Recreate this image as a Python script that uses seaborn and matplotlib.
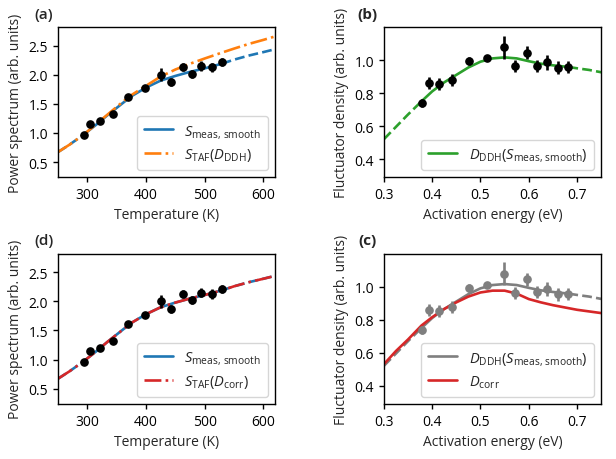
import numpy as np
import pandas as pd
import matplotlib
matplotlib.use('Agg')
import matplotlib.pyplot as plt
import seaborn as sns

# Measured points: temperature (K), power spectrum, error
temp_meas = [295, 304.5, 322.5, 343, 370, 399, 425, 443, 463, 479, 494, 512.5, 529]
S_meas = [0.96, 1.15, 1.20, 1.32, 1.615, 1.77, 2.00, 1.87, 2.13, 2.02, 2.15, 2.13, 2.22]
S_err = [0.035, 0.035, 0.035, 0.04, 0.03, 0.03, 0.115, 0.07, 0.07, 0.07, 0.08, 0.08, 0.07]

# Fluctuator density points: activation energy (eV), density, error
E_meas = [0.378, 0.393, 0.415, 0.442, 0.476, 0.514, 0.548, 0.571, 0.597, 0.617, 0.637, 0.660, 0.682]
D_meas = [0.74, 0.86, 0.854, 0.878, 0.994, 1.01, 1.078, 0.962, 1.044, 0.966, 0.986, 0.954, 0.958]
D_err = [0.024, 0.036, 0.036, 0.036, 0.024, 0.01, 0.07, 0.036, 0.04, 0.036, 0.044, 0.04, 0.036]

# Smoothed / model curves on temperature grid
temp_curve = [250, 270, 295, 315, 335, 355, 375, 400, 425, 450, 475, 500, 529, 550, 575, 600, 620]
S_smooth = [0.67, 0.80, 0.98, 1.14, 1.31, 1.47, 1.63, 1.78, 1.90, 1.98, 2.05, 2.11, 2.19, 2.26, 2.33, 2.39, 2.44]
S_taf_ddh = [0.67, 0.80, 0.98, 1.15, 1.32, 1.49, 1.65, 1.81, 1.97, 2.09, 2.19, 2.28, 2.38, 2.45, 2.53, 2.60, 2.66]
S_taf_corr = [0.67, 0.80, 0.98, 1.14, 1.31, 1.47, 1.63, 1.78, 1.90, 1.98, 2.05, 2.11, 2.19, 2.26, 2.33, 2.39, 2.44]

# Density curves on energy grid
E_curve = [0.30, 0.325, 0.35, 0.378, 0.40, 0.425, 0.45, 0.475, 0.50, 0.525, 0.55, 0.575,
           0.60, 0.625, 0.65, 0.682, 0.70, 0.725, 0.75]
D_ddh = [0.52, 0.595, 0.67, 0.75, 0.81, 0.865, 0.91, 0.955, 0.99, 1.01, 1.016, 1.01,
         0.993, 0.978, 0.968, 0.958, 0.95, 0.94, 0.926]
D_corr = [0.53, 0.61, 0.68, 0.765, 0.815, 0.865, 0.905, 0.94, 0.965, 0.976, 0.976, 0.958,
          0.925, 0.905, 0.888, 0.870, 0.86, 0.85, 0.84]

sns.set_theme(style='ticks')
plt.rcParams['font.family'] = ['Open Sans', 'DejaVu Sans']
plt.rcParams['mathtext.fontset'] = 'custom'
plt.rcParams['mathtext.rm'] = 'Open Sans'
plt.rcParams['mathtext.it'] = 'Open Sans:italic'
plt.rcParams['font.size'] = 10
plt.rcParams['axes.labelsize'] = 10
plt.rcParams['xtick.labelsize'] = 10
plt.rcParams['ytick.labelsize'] = 10
plt.rcParams['legend.fontsize'] = 10.5
plt.rcParams['axes.edgecolor'] = 'black'
plt.rcParams['axes.linewidth'] = 1.0
plt.rcParams['xtick.color'] = 'black'
plt.rcParams['ytick.color'] = 'black'

LW = 1.9


def split_curve(ax, x, y, lo, hi, color, label):
    # solid inside the measured range, dashed outside
    df = pd.DataFrame({'x': x, 'y': y})
    left = df[df['x'] <= lo]
    mid = df[(df['x'] >= lo) & (df['x'] <= hi)]
    right = df[df['x'] >= hi]
    sns.lineplot(data=left, x='x', y='y', ax=ax, color=color, linestyle='--', lw=LW, sort=False)
    sns.lineplot(data=right, x='x', y='y', ax=ax, color=color, linestyle='--', lw=LW, sort=False)
    sns.lineplot(data=mid, x='x', y='y', ax=ax, color=color, linestyle='-', lw=LW, sort=False, label=label)


def points(ax, x, y, err, color):
    ax.errorbar(x, y, yerr=err, fmt='o', color=color, ms=5.2, elinewidth=1.9, capsize=0, zorder=5)


fig, axes = plt.subplots(2, 2, figsize=(6.16, 4.6), dpi=100)
plt.subplots_adjust(left=0.094, right=0.976, top=0.939, bottom=0.12, wspace=0.5, hspace=0.51)
ax_a, ax_b = axes[0]
ax_d, ax_c = axes[1]

lbl_smooth = r'$S_{\mathrm{meas,\,smooth}}$'

# (a)
split_curve(ax_a, temp_curve, S_smooth, temp_meas[0], temp_meas[-1], '#1f77b4', lbl_smooth)
sns.lineplot(x=temp_curve, y=S_taf_ddh, ax=ax_a, color='#ff7f0e', linestyle='-.', lw=LW,
             label=r'$S_{\mathrm{TAF}}(D_{\mathrm{DDH}})$')
points(ax_a, temp_meas, S_meas, S_err, 'black')

# (d)
split_curve(ax_d, temp_curve, S_smooth, temp_meas[0], temp_meas[-1], '#1f77b4', lbl_smooth)
sns.lineplot(x=temp_curve, y=S_taf_corr, ax=ax_d, color='#d62728', linestyle='-.', lw=LW,
             label=r'$S_{\mathrm{TAF}}(D_{\mathrm{corr}})$')
points(ax_d, temp_meas, S_meas, S_err, 'black')

for ax in (ax_a, ax_d):
    ax.set_xlim(250, 620)
    ax.set_ylim(0.24, 2.82)
    ax.set_xticks([300, 400, 500, 600])
    ax.set_yticks([0.5, 1.0, 1.5, 2.0, 2.5])
    ax.set_xlabel('Temperature (K)')
    ax.set_ylabel('Power spectrum (arb. units)')
    ax.legend(loc='lower right', handlelength=2.0, borderpad=0.45, labelspacing=0.45)

# (b)
split_curve(ax_b, E_curve, D_ddh, E_meas[0], E_meas[-1], '#2ca02c',
            r'$D_{\mathrm{DDH}}(S_{\mathrm{meas,\,smooth}})$')
points(ax_b, E_meas, D_meas, D_err, 'black')

# (c)
split_curve(ax_c, E_curve, D_ddh, E_meas[0], E_meas[-1], '#7f7f7f',
            r'$D_{\mathrm{DDH}}(S_{\mathrm{meas,\,smooth}})$')
sns.lineplot(x=E_curve, y=D_corr, ax=ax_c, color='#d62728', lw=LW, label=r'$D_{\mathrm{corr}}$')
points(ax_c, E_meas, D_meas, D_err, '#7f7f7f')

for ax in (ax_b, ax_c):
    ax.set_xlim(0.3, 0.75)
    ax.set_ylim(0.29, 1.2)
    ax.set_xticks([0.3, 0.4, 0.5, 0.6, 0.7])
    ax.set_yticks([0.4, 0.6, 0.8, 1.0])
    ax.set_xlabel('Activation energy (eV)')
    ax.set_ylabel('Fluctuator density (arb. units)')
    ax.legend(loc='lower right', handlelength=2.0, borderpad=0.45, labelspacing=0.45)

for ax in axes.flat:
    for s in ax.spines.values():
        s.set_visible(True)
    ax.tick_params(direction='out', length=3.5, width=1)

ax_a.text(-0.065, 1.09, '(a)', transform=ax_a.transAxes, ha='center', va='center', fontsize=11, fontweight='semibold')
ax_d.text(-0.065, 1.09, '(d)', transform=ax_d.transAxes, ha='center', va='center', fontsize=11, fontweight='semibold')
ax_b.text(-0.075, 1.09, '(b)', transform=ax_b.transAxes, ha='center', va='center', fontsize=11, fontweight='bold')
ax_c.text(-0.075, 1.09, '(c)', transform=ax_c.transAxes, ha='center', va='center', fontsize=11, fontweight='bold')

plt.savefig('out.png', dpi=100)
